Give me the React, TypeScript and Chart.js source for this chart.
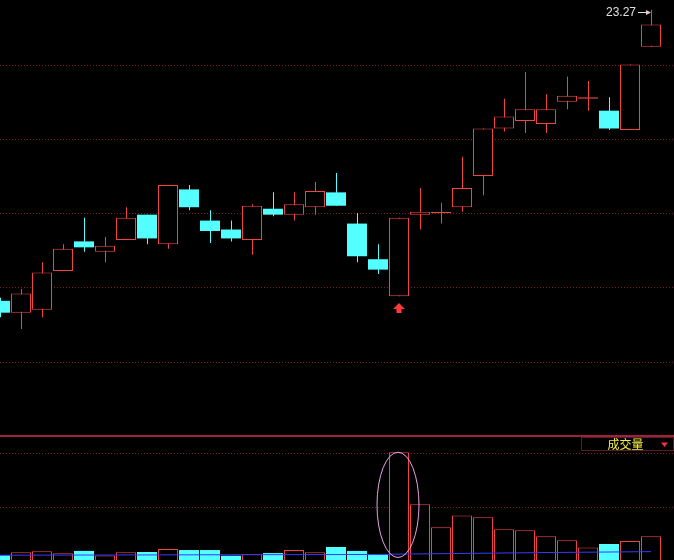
import { useEffect, useRef } from "react";
import { Chart, registerables } from "chart.js";

Chart.register(...registerables);

// ---------- data ----------
const days = [0, 1, 2, 3, 4, 5, 6, 7, 8, 9, 10, 11, 12, 13, 14, 15, 16, 17, 18, 19, 20, 21, 22, 23, 24, 25, 26, 27, 28, 29, 30, 31];
const opens = [21.31, 21.23, 21.25, 21.51, 21.71, 21.64, 21.72, 21.89, 21.69, 22.06, 21.85, 21.79, 21.72, 21.93, 21.89, 21.94, 22.04, 21.83, 21.59, 21.34, 21.89, 21.9, 21.94, 22.15, 22.47, 22.52, 22.5, 22.65, 22.67, 22.59, 22.46, 23.02];
const highs = [21.33, 21.39, 21.57, 21.69, 21.87, 21.74, 21.94, 21.89, 22.09, 22.09, 21.92, 21.85, 21.96, 22.04, 22.04, 22.11, 22.17, 21.9, 21.69, 21.87, 22.07, 21.97, 22.28, 22.47, 22.67, 22.85, 22.7, 22.82, 22.79, 22.68, 22.9, 23.27];
const lows = [21.2, 21.12, 21.2, 21.51, 21.64, 21.57, 21.72, 21.69, 21.66, 21.92, 21.7, 21.71, 21.62, 21.88, 21.85, 21.89, 21.95, 21.57, 21.49, 21.34, 21.79, 21.83, 21.91, 22.02, 22.45, 22.44, 22.44, 22.6, 22.59, 22.46, 22.46, 23.02];
const closes = [21.23, 21.36, 21.5, 21.66, 21.67, 21.68, 21.87, 21.73, 22.09, 21.94, 21.78, 21.73, 21.95, 21.89, 21.96, 22.05, 21.95, 21.61, 21.52, 21.87, 21.91, 21.91, 22.07, 22.47, 22.55, 22.6, 22.6, 22.69, 22.68, 22.47, 22.9, 23.17];
const volumes = [2600, 4300, 4900, 3800, 5100, 2600, 4300, 4500, 6200, 5600, 5600, 2400, 3200, 3900, 5600, 4300, 7300, 5100, 3000, 60600, 31300, 18400, 25100, 24000, 17300, 16700, 13300, 11100, 7100, 9000, 10700, 13300];
const volumeMA = [2700, 2700, 2750, 2750, 2800, 2800, 2850, 2850, 2900, 2900, 2950, 2950, 3000, 3000, 3000, 3050, 3050, 3100, 3100, 3300, 3450, 3550, 3700, 3800, 3950, 4050, 4200, 4300, 4400, 4500, 4600, 4700];
const priceGrid = [20.9, 21.4, 21.9, 22.4, 22.9];
const volumeGrid = [30000, 60000];
const markIndex = 19;
const volumeLabel = "成交量";

// ---------- axis ranges ----------
const X_MIN = 0;
const X_MAX = 32.095;
const PRICE_MIN = 20.4;
const PRICE_MAX = 23.335;
const VOL_MAX = 69750;

// ---------- styles ----------
const W = 674;
const PRICE_H = 436;
const VOL_H = 124;
const RED = "#f04444";
const CYAN = "#54ffff";
const GRID = "#7a1e22";
const BLUE = "#3a3aff";
const HALF_PX_UNITS = (0.5 * (X_MAX - X_MIN)) / W;

const isUp = (i: number) => closes[i] >= opens[i];

const pricePlugin = {
  id: "priceDecor",
  beforeDatasetsDraw(chart: any) {
    const { ctx, chartArea, scales } = chart;
    const y = scales.y;
    ctx.save();
    ctx.strokeStyle = GRID;
    ctx.lineWidth = 1;
    ctx.setLineDash([1, 2]);
    priceGrid.forEach((v) => {
      const py = Math.round(y.getPixelForValue(v)) + 0.5;
      ctx.beginPath();
      ctx.moveTo(chartArea.left, py);
      ctx.lineTo(chartArea.right, py);
      ctx.stroke();
    });
    ctx.restore();
  },
  afterDatasetsDraw(chart: any) {
    const { ctx, scales } = chart;
    const x = scales.x;
    const y = scales.y;
    ctx.save();
    // red up-arrow under the marked candle
    const cx = x.getPixelForValue(days[markIndex]);
    const t = Math.round(y.getPixelForValue(lows[markIndex])) + 7;
    ctx.fillStyle = "#ff3a3a";
    ctx.beginPath();
    ctx.moveTo(cx, t);
    ctx.lineTo(cx + 6, t + 6);
    ctx.lineTo(cx + 2.5, t + 6);
    ctx.lineTo(cx + 2.5, t + 10);
    ctx.lineTo(cx - 2.5, t + 10);
    ctx.lineTo(cx - 2.5, t + 6);
    ctx.lineTo(cx - 6, t + 6);
    ctx.closePath();
    ctx.fill();

    // last high label
    const last = days.length - 1;
    const xl = x.getPixelForValue(days[last]);
    const ya = Math.round(y.getPixelForValue(highs[last])) + 2.5;
    ctx.strokeStyle = "#e0e0e0";
    ctx.lineWidth = 1;
    ctx.beginPath();
    ctx.moveTo(xl - 13, ya);
    ctx.lineTo(xl - 3, ya);
    ctx.stroke();
    ctx.fillStyle = "#e8c8d0";
    ctx.beginPath();
    ctx.moveTo(xl, ya);
    ctx.lineTo(xl - 5, ya - 2.5);
    ctx.lineTo(xl - 5, ya + 2.5);
    ctx.closePath();
    ctx.fill();
    ctx.fillStyle = "#e0e0e0";
    ctx.font = '12px "Liberation Sans", Arial, sans-serif';
    ctx.textAlign = "right";
    ctx.textBaseline = "middle";
    ctx.fillText(highs[last].toFixed(2), xl - 15, ya);
    ctx.restore();
  },
};

const volumePlugin = {
  id: "volumeDecor",
  beforeDatasetsDraw(chart: any) {
    const { ctx, chartArea, scales } = chart;
    const y = scales.y;
    ctx.save();
    ctx.strokeStyle = GRID;
    ctx.lineWidth = 1;
    ctx.setLineDash([1, 2]);
    volumeGrid.forEach((v) => {
      const py = Math.round(y.getPixelForValue(v)) + 0.5;
      ctx.beginPath();
      ctx.moveTo(chartArea.left, py);
      ctx.lineTo(chartArea.right, py);
      ctx.stroke();
    });
    ctx.restore();
  },
  afterDatasetsDraw(chart: any) {
    const { ctx, chartArea, scales } = chart;
    const x = scales.x;
    const y = scales.y;
    ctx.save();
    // ellipse around the marked volume bar
    const cx = x.getPixelForValue(days[markIndex]) - 1;
    const rx = x.getPixelForValue(days[markIndex] + 1) - x.getPixelForValue(days[markIndex]);
    const top = y.getPixelForValue(volumes[markIndex]);
    const bottom = y.getPixelForValue(0) - 2.5;
    ctx.strokeStyle = "#e6a2e6";
    ctx.lineWidth = 1;
    ctx.beginPath();
    ctx.ellipse(cx, (top + bottom) / 2, rx, (bottom - top) / 2, 0, 0, Math.PI * 2);
    ctx.stroke();

    // label box
    const bx = chartArea.right - 92.5;
    ctx.strokeStyle = "#5c1a28";
    ctx.strokeRect(bx, 1.5, 92, 13);
    ctx.fillStyle = "#f4f042";
    ctx.font = '12px "Noto Sans CJK SC", sans-serif';
    ctx.textAlign = "center";
    ctx.textBaseline = "middle";
    ctx.fillText(volumeLabel, bx + 44, 8.5);
    ctx.fillStyle = "#ff2a4a";
    ctx.beginPath();
    ctx.moveTo(chartArea.right - 13, 6.5);
    ctx.lineTo(chartArea.right - 6, 6.5);
    ctx.lineTo(chartArea.right - 9.5, 11);
    ctx.closePath();
    ctx.fill();
    ctx.restore();
  },
};

export default function App() {
  const priceRef = useRef<HTMLCanvasElement>(null);
  const volRef = useRef<HTMLCanvasElement>(null);

  useEffect(() => {
    document.body.style.margin = "0";
    document.body.style.background = "#000";

    const common: any = {
      responsive: false,
      animation: false,
      events: [],
      layout: { padding: 0 },
      plugins: { legend: { display: false }, tooltip: { enabled: false } },
    };

    const priceChart = new Chart(priceRef.current!, {
      type: "bar",
      data: {
        datasets: [
          {
            type: "bar",
            xAxisID: "xw",
            data: days.map((d, i) => ({ x: d, y: [lows[i], highs[i]] })) as any,
            backgroundColor: days.map((_, i) => (isUp(i) ? RED : CYAN)),
            borderWidth: 0,
            barThickness: 1,
            grouped: false,
            inflateAmount: 0,
            order: 2,
          } as any,
          {
            type: "bar",
            xAxisID: "x",
            data: days.map((d, i) => ({ x: d, y: [opens[i], closes[i]] })) as any,
            backgroundColor: days.map((_, i) => (isUp(i) ? "#000000" : CYAN)),
            borderColor: days.map((_, i) => (isUp(i) ? RED : CYAN)),
            borderWidth: days.map((_, i) => (isUp(i) ? 1 : 0)),
            borderSkipped: false,
            barThickness: 20,
            grouped: false,
            inflateAmount: 0,
            order: 1,
          } as any,
        ],
      },
      options: {
        ...common,
        scales: {
          x: { type: "linear", min: X_MIN, max: X_MAX, display: false, offset: false },
          xw: {
            type: "linear",
            axis: "x",
            min: X_MIN - HALF_PX_UNITS,
            max: X_MAX - HALF_PX_UNITS,
            display: false,
            offset: false,
          },
          y: { type: "linear", min: PRICE_MIN, max: PRICE_MAX, display: false },
        },
      },
      plugins: [pricePlugin],
    } as any);

    const volChart = new Chart(volRef.current!, {
      type: "bar",
      data: {
        datasets: [
          {
            type: "line",
            data: days.map((d, i) => ({ x: d, y: volumeMA[i] })) as any,
            borderColor: BLUE,
            borderWidth: 1,
            pointRadius: 0,
            tension: 0,
            order: 0,
          } as any,
          {
            type: "bar",
            data: days.map((d, i) => ({ x: d, y: volumes[i] })) as any,
            backgroundColor: days.map((_, i) => (isUp(i) ? "#000000" : CYAN)),
            borderColor: days.map((_, i) => (isUp(i) ? RED : CYAN)),
            borderWidth: days.map((_, i) => (isUp(i) ? 1 : 0)),
            borderSkipped: "start",
            barThickness: 20,
            grouped: false,
            inflateAmount: 0,
            order: 1,
          } as any,
        ],
      },
      options: {
        ...common,
        scales: {
          x: { type: "linear", min: X_MIN, max: X_MAX, display: false, offset: false },
          y: { type: "linear", min: 0, max: VOL_MAX, display: false },
        },
      },
      plugins: [volumePlugin],
    } as any);

    return () => {
      priceChart.destroy();
      volChart.destroy();
    };
  }, []);

  return (
    <div style={{ position: "relative", width: W, height: PRICE_H + VOL_H, background: "#000", overflow: "hidden" }}>
      <canvas ref={priceRef} width={W} height={PRICE_H} style={{ position: "absolute", left: 0, top: 0 }} />
      <canvas ref={volRef} width={W} height={VOL_H} style={{ position: "absolute", left: 0, top: PRICE_H }} />
      <div style={{ position: "absolute", left: 0, top: PRICE_H - 1, width: W, height: 2, background: "#a0223a" }} />
    </div>
  );
}
